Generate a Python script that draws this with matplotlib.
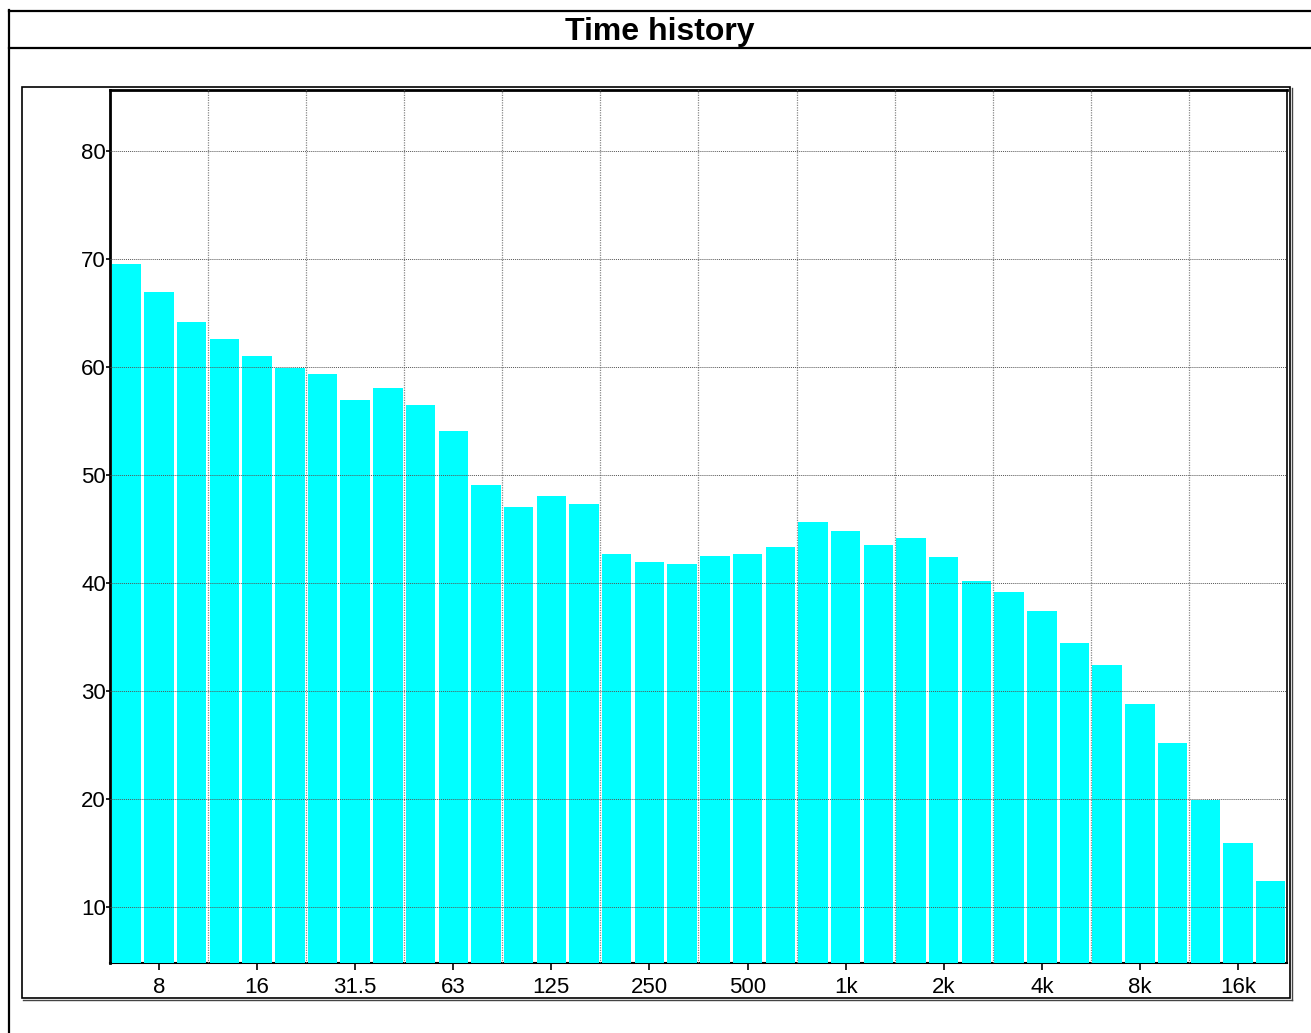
import numpy as np
import matplotlib
matplotlib.use("Agg")
import matplotlib.pyplot as plt
from matplotlib.patches import Rectangle
from matplotlib.lines import Line2D

# 1/3 octave bands 6.3 Hz .. 20 kHz
bands = ['6.3', '8', '10', '12.5', '16', '20', '25', '31.5', '40', '50', '63', '80',
         '100', '125', '160', '200', '250', '315', '400', '500', '630', '800',
         '1k', '1.25k', '1.6k', '2k', '2.5k', '3.15k', '4k', '5k', '6.3k', '8k',
         '10k', '12.5k', '16k', '20k']
levels = [69.5, 66.9, 64.1, 62.6, 61.0, 59.9, 59.3, 56.9, 58.0, 56.4, 54.0, 49.0,
          47.0, 48.0, 47.3, 42.7, 41.9, 41.7, 42.5, 42.7, 43.3, 45.6, 44.8, 43.5,
          44.1, 42.4, 40.2, 39.1, 37.4, 34.4, 32.4, 28.8, 25.2, 19.9, 15.9, 12.4]
tick_labels = ['8', '16', '31.5', '63', '125', '250', '500', '1k', '2k', '4k', '8k', '16k']
y_ticks = [10, 20, 30, 40, 50, 60, 70, 80]

W, H = 1311, 1033
plt.rcParams['font.family'] = ['Liberation Sans', 'DejaVu Sans']
fig = plt.figure(figsize=(W / 100, H / 100), dpi=100)

def fx(px):
    return px / W

def fy(py):
    return 1 - py / H

# outer frame + title box
fig.add_artist(Line2D([fx(9), fx(9)], [fy(10), fy(1040)], color='black', lw=1.6))
fig.add_artist(Line2D([fx(9), fx(1320)], [fy(11), fy(11)], color='black', lw=1.6))
fig.add_artist(Line2D([fx(9), fx(1320)], [fy(48), fy(48)], color='black', lw=1.6))
fig.text(fx(660), fy(32), 'Time history', ha='center', va='center',
         fontsize=23, fontweight='bold')

# inner frame
fig.add_artist(Rectangle((fx(22), fy(998)), fx(1290) - fx(22), fy(87) - fy(998),
                         fill=False, ec='black', lw=1.2))
fig.add_artist(Line2D([fx(1292), fx(1292)], [fy(88), fy(1000)], color='#444444', lw=1.0))
fig.add_artist(Line2D([fx(23), fx(1292)], [fy(1000), fy(1000)], color='#444444', lw=1.0))

ax = fig.add_axes([fx(110), fy(963), fx(1287) - fx(110), fy(90) - fy(963)])
x = np.arange(len(bands))
ax.bar(x, levels, width=0.9, bottom=0, color='#00ffff', zorder=2)
ax.set_xlim(-0.5, len(bands) - 0.5)
ax.set_ylim(4.8, 85.6)

ax.set_xticks(x[1::3])
ax.set_xticklabels(tick_labels, fontsize=16)
ax.set_xticks(np.arange(2.5, len(bands) - 1, 3), minor=True)
ax.set_yticks(y_ticks)
ax.set_yticklabels([str(v) for v in y_ticks], fontsize=16)
ax.tick_params(axis='x', which='major', length=5, width=1.2, pad=5, direction='out')
ax.tick_params(axis='x', which='minor', length=0)
ax.tick_params(axis='y', length=3, width=1.2, pad=0, direction='out')

ax.grid(True, axis='y', which='major', color='#555555', ls=(0, (1, 1)), lw=0.7, zorder=3)
ax.grid(True, axis='x', which='minor', color='#888888', ls=(0, (1, 1)), lw=0.9, zorder=3)
ax.set_axisbelow(False)

for s in ['left', 'top']:
    ax.spines[s].set_linewidth(2.0)
ax.spines['right'].set_linewidth(1.2)
ax.spines['bottom'].set_linewidth(1.5)
ax.spines['bottom'].set_zorder(1)

fig.savefig('out.png', dpi=100)
